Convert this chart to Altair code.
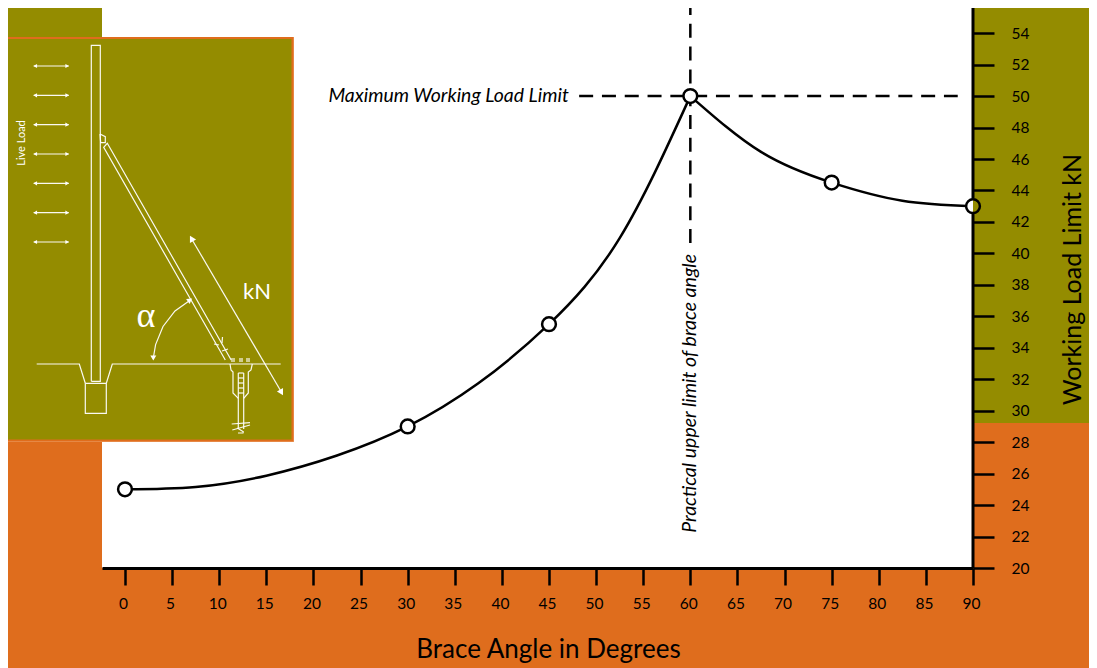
import altair as alt
import pandas as pd

OLIVE = "#948C00"
ORANGE = "#DF6D1D"
FONT = "Lato"

# Marker points
marker_angle = [0, 30, 45, 60, 75, 90]
marker_load = [25, 29, 35.5, 50, 44.5, 43]
# Curve, every 7.5 degrees
rise_angle = [0, 7.5, 15, 22.5, 30, 37.5, 45, 52.5, 60]
rise_load = [25, 25.15, 25.87, 27.15, 29, 31.74, 35.5, 40.97, 50]
fall_angle = [60, 67.5, 75, 82.5, 90]
fall_load = [50, 46.45, 44.5, 43.35, 43]
x_ticks = list(range(0, 95, 5))
y_ticks = list(range(20, 56, 2))
X_MIN, X_MAX = -2.44, 90
Y_MIN, Y_MAX = 20, 55.6

# Inset diagram, in the inset's own units
inset_lines = [
    [(91.3, 381.3), (91.3, 45.3), (100.3, 45.3), (100.3, 381.3), (91.3, 381.3)],
    [(85.3, 383.3), (106.3, 383.3), (106.3, 413.3), (85.3, 413.3), (85.3, 383.3)],
    [(36.7, 364), (79.3, 364), (85.3, 383.3)],
    [(106.3, 383.3), (112.3, 364), (280.7, 364)],
    [(225.3, 360), (103.7, 147.3), (107.3, 143.3), (231.2, 360)],
    [(100, 134), (105.3, 136.7), (105.3, 142.7), (100.7, 142.7), (100, 134)],
    [(214, 344), (219, 345)], [(222, 351), (228, 349)], [(222.5, 337), (222, 343)],
    [(192.7, 240.7), (280.5, 390.5)],
    [(153.3, 358), (155.6, 344.6), (163, 326.5), (175, 311), (189, 301)],
    [(230, 364), (231, 370), (233, 372), (233, 393), (238.3, 398.3)],
    [(252.3, 364), (251, 370), (248.3, 372), (248.3, 393), (243.7, 398.3)],
    [(238.3, 373), (238.3, 429)], [(243.7, 373), (243.7, 429)],
    [(238.3, 373), (243.7, 373)], [(238.3, 378), (243.7, 378)], [(238.3, 383), (243.7, 383)],
    [(238.3, 388), (243.7, 388)], [(238.3, 393), (243.7, 393)],
    [(231.7, 424), (250, 422.7)], [(232.3, 430), (250, 425)],
    [(237.3, 428), (243.3, 431.7), (243, 433), (238, 433)],
    [(231, 361), (235, 361)], [(239, 361), (243, 361)], [(246, 361), (250, 361)],
    [(231, 359), (235, 359)], [(239, 359), (243, 359)], [(246, 359), (250, 359)],
]
arrow_rows = [66, 95.3, 124.7, 154, 183.3, 212.7, 242]
arrow_left, arrow_right = 33.7, 68.7
heads = [(191.5, 238.5, 330, 50), (281.5, 392.5, 150, 50), (153.3, 358, 180, 36), (190, 300, 55, 36)]
inset_labels = [("Live Load", 22, 143, 270, 11, FONT), ("kN", 257, 292, 0, 22, FONT),
                ("α", 146, 316, 0, 36, "Liberation Serif")]

one = pd.DataFrame({"a": [0]})

def band(color, x0, x1, y0, y1):
    return alt.Chart(one).mark_rect(color=color).encode(
        x=alt.value(x0), x2=alt.value(x1), y=alt.value(y0), y2=alt.value(y1))

background = alt.layer(
    band(OLIVE, -94, 987, 0, 415),
    band("white", 0, 871, 0, 560),
)

xs = alt.Scale(domain=[X_MIN, X_MAX], nice=False, zero=False)
ys = alt.Scale(domain=[Y_MIN, Y_MAX], nice=False, zero=False)
x_axis = alt.Axis(values=x_ticks, tickCount=len(x_ticks), tickSize=17, tickWidth=2.5, tickColor="black", domainWidth=3,
                  domainColor="black", labelFont=FONT, labelFontSize=15.5, labelColor="black",
                  labelPadding=11, labelOffset=-2, labelOverlap=False, labelFlush=False, grid=False,
                  format="d", title="Brace Angle in Degrees", titleFont=FONT, titleFontSize=26,
                  titleFontWeight="normal", titleColor="black", titlePadding=25, titleX=446, zindex=1)
y_axis = alt.Axis(values=y_ticks, tickCount=len(y_ticks), orient="right", tickSize=21, tickWidth=2.5, tickColor="black",
                  domain=False, labelFont=FONT, labelFontSize=15.5, labelColor="black", labelPadding=17,
                  labelOverlap=False, labelFlush=False, grid=False, format="d",
                  title="Working Load Limit kN", titleFont=FONT, titleFontSize=25,
                  titleFontWeight="normal", titleColor="black", titleAngle=270, titlePadding=57, titleY=271, zindex=1)

curve = pd.concat([
    pd.DataFrame({"angle": rise_angle, "load": rise_load, "branch": "rise"}),
    pd.DataFrame({"angle": fall_angle, "load": fall_load, "branch": "fall"}),
])
points = pd.DataFrame({"angle": marker_angle, "load": marker_load})
end_point = points[points["angle"] == 90]

axis_line = alt.Chart(pd.DataFrame({"angle": [90]})).mark_rule(color="black", strokeWidth=3).encode(
    x=alt.X("angle:Q", scale=xs, axis=x_axis), y=alt.value(-1), y2=alt.value(560))
lines = alt.Chart(curve).mark_line(color="black", strokeWidth=2.5, interpolate="natural").encode(
    x=alt.X("angle:Q", scale=xs, axis=x_axis),
    y=alt.Y("load:Q", scale=ys, axis=y_axis),
    detail="branch:N")
h_dash = alt.Chart(pd.DataFrame({"angle": [48.2, 88.38], "load": [50, 50]})).mark_line(
    color="black", strokeWidth=2.5, strokeDash=[14, 8.8]).encode(x=alt.X("angle:Q", scale=xs), y=alt.Y("load:Q", scale=ys))
v_dash = alt.Chart(pd.DataFrame({"angle": [60, 60], "load": [40.66, Y_MAX]})).mark_line(
    color="black", strokeWidth=2.5, strokeDash=[14, 8.8]).encode(x=alt.X("angle:Q", scale=xs), y=alt.Y("load:Q", scale=ys))
discs = alt.Chart(points).mark_point(filled=True, fill="white", opacity=1, size=190, shape="circle", strokeWidth=0).encode(
    x=alt.X("angle:Q", scale=xs), y=alt.Y("load:Q", scale=ys))
half = alt.Chart(end_point).mark_arc(radius=7.6, theta=0, theta2=3.14159, color=OLIVE).encode(
    x=alt.X("angle:Q", scale=xs), y=alt.Y("load:Q", scale=ys))
rings = alt.Chart(points).mark_point(filled=False, stroke="black", strokeWidth=2.5, opacity=1, size=190, shape="circle").encode(
    x=alt.X("angle:Q", scale=xs), y=alt.Y("load:Q", scale=ys))
label_h = alt.Chart(pd.DataFrame({"angle": [47.1], "load": [50], "t": ["Maximum Working Load Limit"]})).mark_text(
    font=FONT, fontStyle="italic", fontSize=19.4, align="right", baseline="middle", color="black").encode(
    x=alt.X("angle:Q", scale=xs), y=alt.Y("load:Q", scale=ys), text="t:N")
label_v = alt.Chart(pd.DataFrame({"angle": [60], "load": [31.1], "t": ["Practical upper limit of brace angle"]})).mark_text(
    font=FONT, fontStyle="italic", fontSize=19.5, angle=270, align="center", baseline="middle", color="black").encode(
    x=alt.X("angle:Q", scale=xs), y=alt.Y("load:Q", scale=ys), text="t:N")

main = alt.layer(axis_line, lines, h_dash, v_dash, discs, half, rings, label_h, label_v)

ix = alt.Scale(domain=[0, 1097], range=[-102, 995], nice=False, zero=False)
iy = alt.Scale(domain=[0, 668], range=[-8, 660], nice=False, zero=False)
ax = dict(scale=ix, axis=None)
ay = dict(scale=iy, axis=None)

frame_halo = alt.Chart(pd.DataFrame({"x": [6], "x2": [294], "y": [37], "y2": [442]})).mark_rect(color="#EDA46E").encode(
    x=alt.X("x:Q", **ax), x2="x2:Q", y=alt.Y("y:Q", **ay), y2="y2:Q")
frame = alt.Chart(pd.DataFrame({"x": [7], "x2": [292.5], "y": [38], "y2": [440.5]})).mark_rect(
    fill=OLIVE, stroke=ORANGE, strokeWidth=2).encode(
    x=alt.X("x:Q", **ax), x2="x2:Q", y=alt.Y("y:Q", **ay), y2="y2:Q")

rows = []
for i, seg in enumerate(inset_lines):
    for j, (px, py) in enumerate(seg):
        rows.append({"id": f"s{i}", "o": j, "x": px, "y": py})
for i, ry in enumerate(arrow_rows):
    rows.append({"id": f"a{i}", "o": 0, "x": arrow_left, "y": ry})
    rows.append({"id": f"a{i}", "o": 1, "x": arrow_right, "y": ry})
seg_chart = alt.Chart(pd.DataFrame(rows)).mark_line(color="white", strokeWidth=1.2, opacity=0.95).encode(
    x=alt.X("x:Q", **ax), y=alt.Y("y:Q", **ay), detail="id:N", order="o:Q")

left_heads = alt.Chart(pd.DataFrame({"x": [arrow_left + 1.5] * 7, "y": arrow_rows})).mark_point(
    shape="triangle-left", filled=True, color="white", opacity=1, size=18).encode(x=alt.X("x:Q", **ax), y=alt.Y("y:Q", **ay))
right_heads = alt.Chart(pd.DataFrame({"x": [arrow_right - 1.5] * 7, "y": arrow_rows})).mark_point(
    shape="triangle-right", filled=True, color="white", opacity=1, size=18).encode(x=alt.X("x:Q", **ax), y=alt.Y("y:Q", **ay))
head_layers = [
    alt.Chart(pd.DataFrame({"x": [hx], "y": [hy]})).mark_point(
        shape="triangle-up", filled=True, color="white", opacity=1, angle=ang, size=sz).encode(
        x=alt.X("x:Q", **ax), y=alt.Y("y:Q", **ay))
    for hx, hy, ang, sz in heads
]
label_layers = [
    alt.Chart(pd.DataFrame({"x": [lx], "y": [ly], "t": [t]})).mark_text(
        color="white", font=f, fontSize=fs, angle=ang, align="center", baseline="middle").encode(
        x=alt.X("x:Q", **ax), y=alt.Y("y:Q", **ay), text="t:N")
    for t, lx, ly, ang, fs, f in inset_labels
]
inset = alt.layer(frame_halo, frame, seg_chart, left_heads, right_heads, *head_layers, *label_layers)

chart = alt.layer(background, main, inset).resolve_scale(x="independent", y="independent").properties(
    width=871, height=560,
    padding={"left": 94, "top": 0, "right": 116, "bottom": 100},
    autosize=alt.AutoSizeParams(type="none"),
    background=ORANGE,
).configure_view(stroke=None)

chart.save("out.html", embed_options={"renderer": "svg", "actions": False})
